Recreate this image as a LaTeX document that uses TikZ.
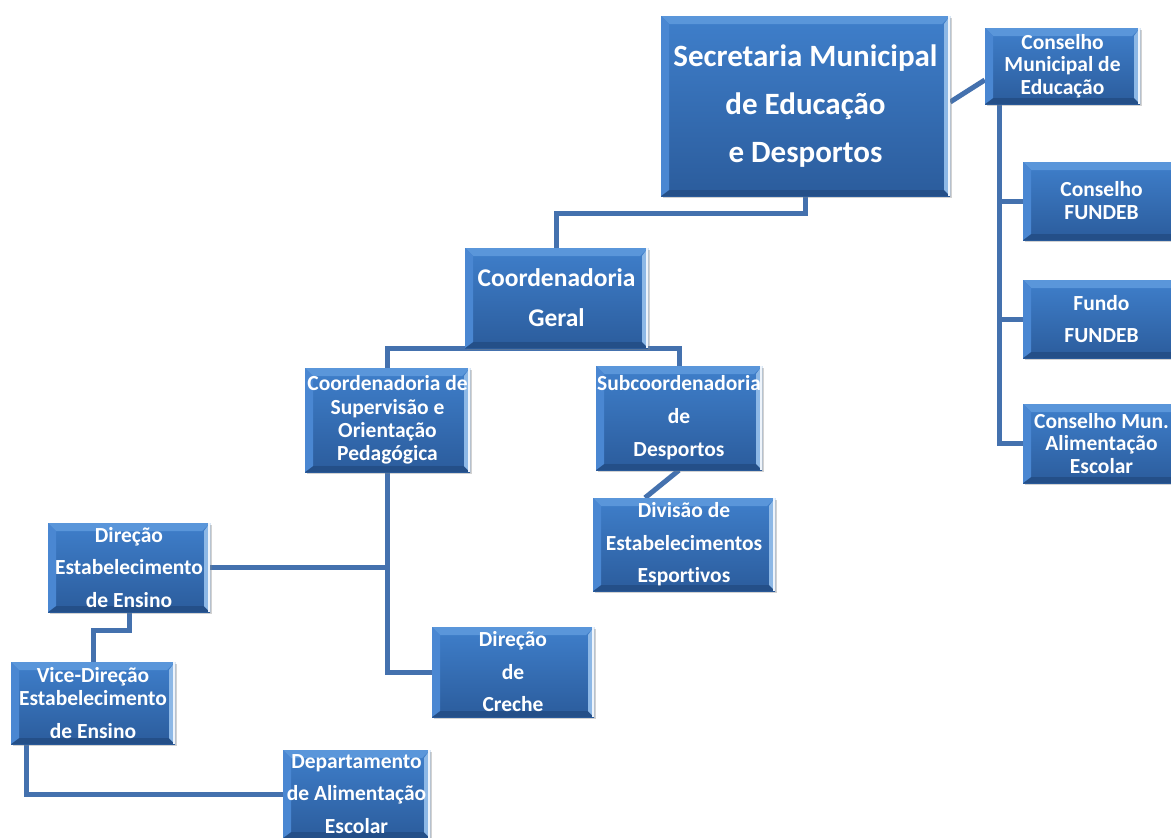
\documentclass[tikz,border=0pt]{standalone}
\usepackage{fontspec}
\setmainfont{Carlito}[Ligatures={NoCommon}]
\usetikzlibrary{shadows,backgrounds,calc}
\definecolor{boxtop}{HTML}{3F7FCB}
\definecolor{boxbot}{HTML}{2B5C9C}
\definecolor{bevT}{HTML}{5A96DA}
\definecolor{bevL}{HTML}{4A87D2}
\definecolor{bevR}{HTML}{8DB8E6}
\definecolor{bevB}{HTML}{244F88}
\definecolor{link}{HTML}{4471AE}
\tikzset{
  orgbox/.style={rectangle, inner sep=0pt, text=white, align=center,
    top color=boxtop, bottom color=boxbot,
    drop shadow={shadow xshift=2pt, shadow yshift=-2pt, opacity=0.35},
    path picture={
      \fill[bevT] (path picture bounding box.north west) -- (path picture bounding box.north east)
        -- ([shift={(-8pt,-8pt)}]path picture bounding box.north east) -- ([shift={(8pt,-8pt)}]path picture bounding box.north west) -- cycle;
      \fill[bevB] (path picture bounding box.south west) -- (path picture bounding box.south east)
        -- ([shift={(-6pt,6pt)}]path picture bounding box.south east) -- ([shift={(8pt,6pt)}]path picture bounding box.south west) -- cycle;
      \fill[bevL] (path picture bounding box.north west) -- ([shift={(8pt,-8pt)}]path picture bounding box.north west)
        -- ([shift={(8pt,6pt)}]path picture bounding box.south west) -- (path picture bounding box.south west) -- cycle;
      \fill[bevR] (path picture bounding box.north east) -- ([shift={(-6pt,-8pt)}]path picture bounding box.north east)
        -- ([shift={(-6pt,6pt)}]path picture bounding box.south east) -- (path picture bounding box.south east) -- cycle;
      \fill[white!85!bevR] ([xshift=-2pt]path picture bounding box.north east) rectangle (path picture bounding box.south east);
    }},
  big/.style={font={\fontsize{31}{48}\selectfont\bfseries}},
  mid/.style={font={\fontsize{25.5}{40}\selectfont\bfseries}},
  small/.style={font={\fontsize{21.5}{#1}\selectfont\bfseries}},
  conn/.style={draw=link, line width=5pt}
}
\begin{document}
\begin{tikzpicture}[x=1pt,y=-1pt]
\useasboundingbox (0,0) rectangle (1171,838);
\node[orgbox,big,minimum width=289pt,minimum height=180pt] (sme) at (805.5,106) {Secretaria Municipal\\de Educação\\e Desportos};
\node[orgbox,small=22.5,minimum width=155pt,minimum height=76pt] (cme) at (1062.5,66) {Conselho\\Municipal de\\Educação};
\node[orgbox,small=23,minimum width=157pt,minimum height=78pt] (cf) at (1101.5,201) {Conselho\\FUNDEB};
\node[orgbox,small=32,minimum width=157pt,minimum height=78pt] (ff) at (1101.5,319) {Fundo\\FUNDEB};
\node[orgbox,small=22.5,minimum width=157pt,minimum height=79pt] (cmae) at (1101.5,443.5) {Conselho Mun.\\Alimentação\\Escolar};
\node[orgbox,mid,minimum width=183pt,minimum height=100pt] (cg) at (556.5,298) {Coordenadoria\\Geral};
\node[orgbox,small=23.3,minimum width=165pt,minimum height=104pt] (csop) at (387.5,420) {Coordenadoria de\\Supervisão e\\Orientação\\Pedagógica};
\node[orgbox,small=33,minimum width=166pt,minimum height=104pt] (sub) at (679,418) {Subcoordenadoria\\de\\Desportos};
\node[orgbox,small=32.5,minimum width=182pt,minimum height=93pt] (div) at (684,544.5) {Divisão de\\Estabelecimentos\\Esportivos};
\node[orgbox,small=32.5,minimum width=162pt,minimum height=89pt] (dir) at (129,567.5) {Direção\\Estabelecimento\\de Ensino};
\node[orgbox,small=23,minimum width=164pt,minimum height=82pt] (vice) at (93,703) {Vice-Direção\\Estabelecimento\\[10pt]de Ensino};
\node[orgbox,small=32.5,minimum width=162pt,minimum height=90pt] (creche) at (513,672) {Direção\\de\\Creche};
\node[orgbox,small=32.5,minimum width=147pt,minimum height=88pt] (dep) at (356.5,794) {Departamento\\de Alimentação\\Escolar};
\begin{scope}[on background layer]
\fill[white] (0,0) rectangle (1171,838);
\draw[conn] (sme.south) -- ++(0,17) -| (cg.north);
\draw[conn] ([yshift=4pt]sme.east) -- ([yshift=-14pt]cme.west);
\coordinate (t) at ([xshift=15pt]cme.south west);
\draw[conn] (t) |- (cmae.west);
\draw[conn] (cf.west) -- (cf.west -| t);
\draw[conn] (ff.west) -- (ff.west -| t);
\draw[conn] (csop.north) |- (cg.south) -| (sub.north);
\draw[conn] (sub.south) -- ([xshift=-39pt]div.north);
\draw[conn] (csop.south) |- (creche.west);
\draw[conn] (dir.east) -- (dir.east -| csop.south);
\draw[conn] (dir.south) -- ++(0,18) -| (vice.north);
\draw[conn] ([xshift=16pt]vice.south west) |- (dep.west);
\end{scope}
\end{tikzpicture}
\end{document}
